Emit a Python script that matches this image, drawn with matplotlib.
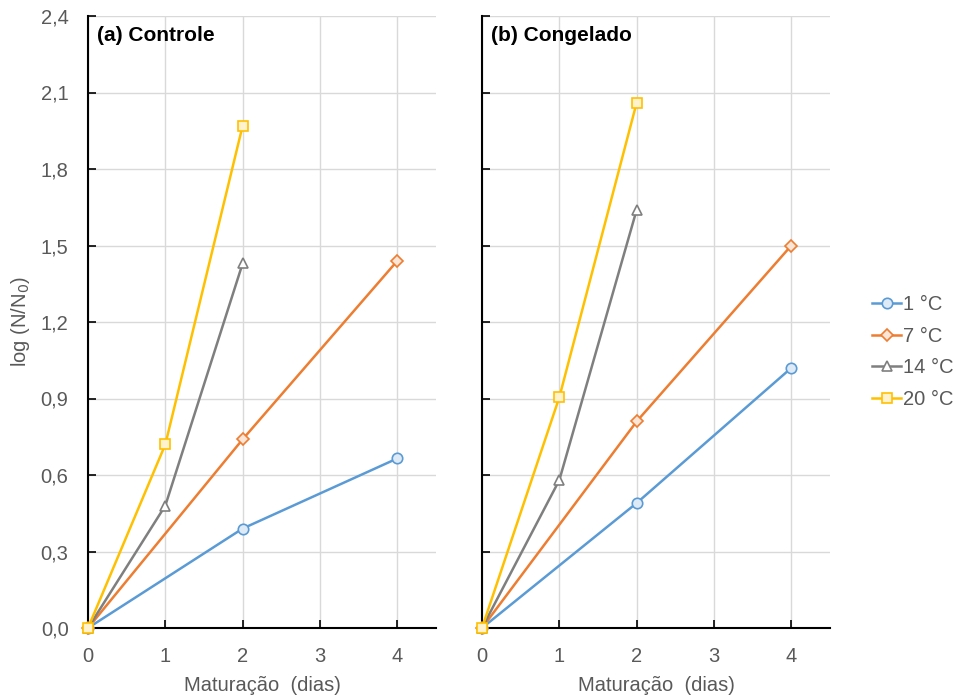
import matplotlib
matplotlib.use("Agg")
import matplotlib.pyplot as plt

plt.rcParams['font.family'] = ['Liberation Sans', 'DejaVu Sans']

labels = ["1 °C", "7 °C", "14 °C", "20 °C"]
colors = ["#5B9BD5", "#ED7D31", "#7F7F7F", "#FFC000"]
face_colors = ["#DEEBF7", "#FBE5D6", "#FFFFFF", "#FFF2CC"]
markers = ["o", "D", "^", "s"]

# Controle
x_ctrl = [[0, 2, 4], [0, 2, 4], [0, 1, 2], [0, 1, 2]]
y_ctrl = [[0.0, 0.39, 0.665], [0.0, 0.74, 1.44], [0.0, 0.48, 1.43], [0.0, 0.72, 1.97]]
# Congelado
x_cong = [[0, 2, 4], [0, 2, 4], [0, 1, 2], [0, 1, 2]]
y_cong = [[0.0, 0.49, 1.02], [0.0, 0.81, 1.50], [0.0, 0.58, 1.64], [0.0, 0.905, 2.06]]

yticks = [0.0, 0.3, 0.6, 0.9, 1.2, 1.5, 1.8, 2.1, 2.4]
ytick_labels = ["0,0", "0,3", "0,6", "0,9", "1,2", "1,5", "1,8", "2,1", "2,4"]
xticks = [0, 1, 2, 3, 4]

W, H = 958, 698
fig = plt.figure(figsize=(W / 100, H / 100), dpi=100)
axL = fig.add_axes([88 / W, (H - 628) / H, 348 / W, 612 / H])
axR = fig.add_axes([482 / W, (H - 628) / H, 348 / W, 612 / H])

txt_color = "#595959"
FS = 14.5
handles = []
for ax, xs, ys, title in [(axL, x_ctrl, y_ctrl, "(a) Controle"), (axR, x_cong, y_cong, "(b) Congelado")]:
    for i in range(4):
        ms = 6.5 if markers[i] == "D" else 7.5
        h, = ax.plot(xs[i], ys[i], color=colors[i], lw=1.8, marker=markers[i],
                     markersize=ms, markerfacecolor=face_colors[i],
                     markeredgecolor=colors[i], markeredgewidth=1.2,
                     clip_on=False, zorder=3, label=labels[i])
        if ax is axL:
            handles.append(h)
    ax.set_xlim(0, 4.5)
    ax.set_ylim(0, 2.4)
    ax.set_xticks(xticks)
    ax.set_yticks(yticks)
    ax.grid(True, color="#D9D9D9", lw=1.0, zorder=0)
    ax.set_axisbelow(True)
    for s in ["top", "right"]:
        ax.spines[s].set_visible(False)
    for s in ["left", "bottom"]:
        ax.spines[s].set_color("black")
        ax.spines[s].set_linewidth(1.5)
    ax.tick_params(direction="in", length=6, width=1.2, colors="black",
                   labelcolor=txt_color, labelsize=FS, pad=14)
    ax.set_xlabel("Maturação  (dias)", fontsize=FS, color=txt_color)
    ax.xaxis.set_label_coords(0.5, -0.078)
    ax.text(0.11, 2.325, title, fontsize=15, fontweight="bold", color="black",
            ha="left", va="center")

axL.set_yticklabels(ytick_labels)
axR.set_yticklabels([])
axL.set_ylabel("log (N/N$_0$)", fontsize=FS, color=txt_color)
axL.yaxis.set_label_coords(-0.16, 0.5)

fig.legend(handles=handles, labels=labels, loc="center left",
           bbox_to_anchor=(862 / W, (H - 352) / H), frameon=False,
           fontsize=FS, labelcolor=txt_color, handlelength=1.45,
           handletextpad=0.1, labelspacing=0.62, borderpad=0)

fig.savefig("out.png", dpi=100)
